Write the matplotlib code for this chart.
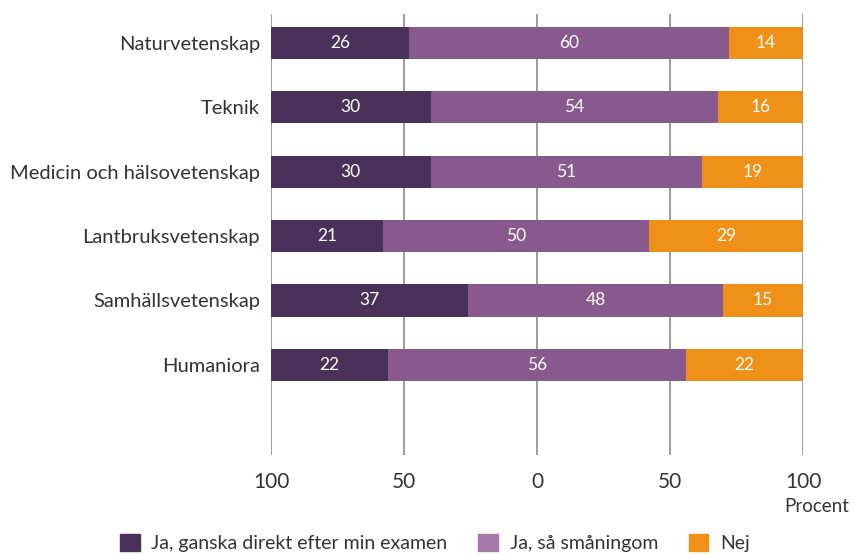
import matplotlib
matplotlib.use("Agg")
import matplotlib.pyplot as plt
from matplotlib.patches import Patch
import numpy as np

# Data
omraden = ["Naturvetenskap", "Teknik", "Medicin och hälsovetenskap",
           "Lantbruksvetenskap", "Samhällsvetenskap", "Humaniora"]
ja_direkt = [26, 30, 30, 21, 37, 22]
ja_smaningom = [60, 54, 51, 50, 48, 56]
nej = [14, 16, 19, 29, 15, 22]
serie_namn = ["Ja, ganska direkt efter min examen", "Ja, så småningom", "Nej"]
tick_varden = [-100, -50, 0, 50, 100]
tick_texter = ["100", "50", "0", "50", "100"]

# Farger
c_morklila = "#4a3159"
c_lila = "#88598c"
c_lila_leg = "#a67aa8"
c_orange = "#ef9019"
c_text = "#333333"

plt.rcParams['font.family'] = ['Lato', 'DejaVu Sans']
plt.rcParams['font.weight'] = 'normal'

fig = plt.figure(figsize=(8.55, 5.55), dpi=100)
ax = fig.add_axes([271/855, 1-455/555, 532/855, 441/555])

y = np.arange(len(omraden))
# varje procent = 2 enheter, staplarna startar vid -100
skala = 2
d = np.array(ja_direkt) * skala
s = np.array(ja_smaningom) * skala
n = np.array(nej) * skala
start = -100

ax.barh(y, d, left=start, height=0.5, color=c_morklila, zorder=3)
ax.barh(y, s, left=start + d, height=0.5, color=c_lila, zorder=3)
ax.barh(y, n, left=start + d + s, height=0.5, color=c_orange, zorder=3)

# varden i staplarna
for i in range(len(omraden)):
    ax.text(start + d[i] / 2, y[i], str(ja_direkt[i]), color="white",
            ha="center", va="center", fontsize=12.5, zorder=4)
    ax.text(start + d[i] + s[i] / 2, y[i], str(ja_smaningom[i]), color="white",
            ha="center", va="center", fontsize=12.5, zorder=4)
    ax.text(start + d[i] + s[i] + n[i] / 2, y[i], str(nej[i]), color="white",
            ha="center", va="center", fontsize=12.5, zorder=4)

ax.set_xlim(-100, 100)
ax.set_ylim(6.4, -0.45)
for xv in tick_varden:
    ax.axvline(xv, color="#8c8c8c", linewidth=1.2, zorder=1)

ax.set_yticks(y)
ax.set_yticklabels(omraden, fontsize=14.5, color=c_text)
ax.set_xticks(tick_varden)
ax.set_xticklabels(tick_texter, fontsize=15, color=c_text)
ax.tick_params(axis="both", length=0)
ax.tick_params(axis="x", pad=12)
ax.tick_params(axis="y", pad=8)
for sp in ax.spines.values():
    sp.set_visible(False)

fig.text(817/855, 1-507/555, "Procent", ha="center", va="center",
         fontsize=13.5, color=c_text)

handles = [Patch(color=c_morklila), Patch(color=c_lila_leg), Patch(color=c_orange)]
fig.legend(handles, serie_namn, loc="center", bbox_to_anchor=(435/855, 1-543/555),
           ncol=3, frameon=False, fontsize=14, handlelength=1.0, handleheight=1.0,
           handletextpad=0.6, columnspacing=1.6, labelcolor=c_text)

fig.savefig("out.png", dpi=100)
